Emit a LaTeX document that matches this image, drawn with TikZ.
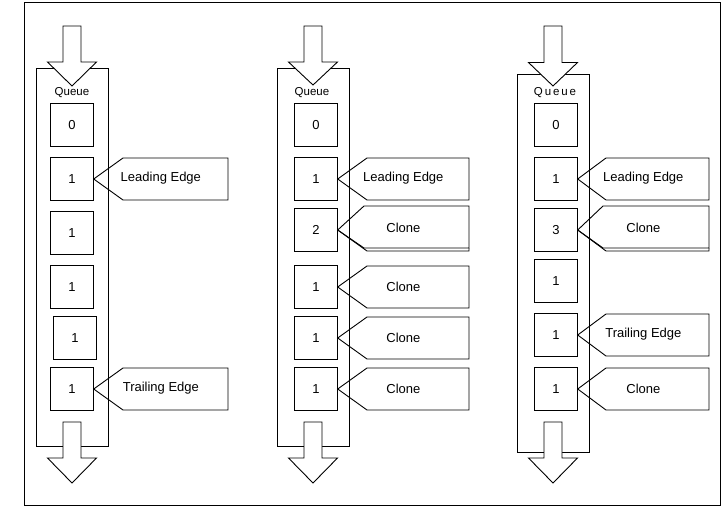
\documentclass[tikz,border=0pt]{standalone}
\usepackage{fontspec}
\setmainfont{Liberation Sans}
\tikzset{
  qbox/.style={draw, minimum width=42.5pt, minimum height=42.5pt, inner sep=0pt},
  lbl/.style={inner sep=0pt, font=\fontsize{13}{15}\selectfont},
  qlbl/.style={inner sep=0pt, font=\fontsize{11.5}{13}\selectfont}
}
% fat arrow pointing down: x, top, base of head, tip
\newcommand\fatarrow[4]{%
  \draw[fill=white] ({#1-9},#2) -- ({#1+9},#2) -- ({#1+9},#3) -- ({#1+24.5},#3)
    -- (#1,#4) -- ({#1-24.5},#3) -- ({#1-9},#3) -- cycle;}
% flag pointing at a box: box, top, bottom, corner x, right x, text
\newcommand\flag[6]{%
  \draw (#1.east) -- (#4,#2) -- (#5,#2) -- (#5,#3) -- (#4,#3) -- cycle;
  \path (#1.east) -- (#5,{(#2+#3)/2-1}) node[midway,lbl] (#1-t) {#6};}
\begin{document}
\begin{tikzpicture}[x=1pt,y=-1pt,line width=0.9pt,lbl]
  \useasboundingbox (0,0) rectangle (722,508);
  \draw (24.5,2.5) rectangle (720.5,505.5);

  % first queue
  \draw (36,68) rectangle (108,446);
  \node[qlbl] (qa) at (72,93) {Queue};
  \foreach \x/\y/\v [count=\i from 0] in {72/125/0,72/179/1,72/233/1,72/287/1,75/338/1,72/389/1}
    \node[qbox] (a\i) at (\x,\y) {\v};
  \flag{a1}{158}{200}{123}{228}{Leading Edge}
  \flag{a5}{368}{410}{123}{228}{Trailing Edge}
  \fatarrow{72}{26}{62}{86}
  \fatarrow{72}{422}{458}{483}

  % second queue
  \draw (277,68) rectangle (349,446);
  \node[qlbl] (qb) at (312,93) {Queue};
  \foreach \x/\y/\v [count=\i from 0] in {316/125/0,316/179/1,316/230/2,316/287/1,316/338/1,316/389/1}
    \node[qbox] (b\i) at (\x,\y) {\v};
  \flag{b1}{158}{200}{367}{469}{Leading Edge}
  \draw (b2.east) -- (367,251) -- (469,251) -- (469,248);
  \flag{b2}{206}{248}{364}{469}{Clone}
  \flag{b3}{266}{308}{367}{469}{Clone}
  \flag{b4}{317}{359}{367}{469}{Clone}
  \flag{b5}{368}{410}{367}{469}{Clone}
  \fatarrow{313}{26}{62}{85}
  \fatarrow{313}{422}{458}{483}

  % third queue
  \draw (517,74) rectangle (589,452);
  \node[qlbl] (qc) at (555,93) {Q\,u\,e\,u\,e};
  \foreach \x/\y/\v [count=\i from 0] in {556/125/0,556/179/1,556/230/3,556/281/1,556/335/1,556/389/1}
    \node[qbox] (c\i) at (\x,\y) {\v};
  \flag{c1}{158}{200}{606}{709}{Leading Edge}
  \draw (c2.east) -- (606,251) -- (709,251) -- (709,248);
  \flag{c2}{206}{248}{603}{709}{Clone}
  \flag{c4}{314}{356}{606}{709}{Trailing Edge}
  \flag{c5}{368}{410}{606}{709}{Clone}
  \fatarrow{553}{26}{62.5}{86}
  \fatarrow{553}{422}{458}{483}
\end{tikzpicture}
\end{document}
